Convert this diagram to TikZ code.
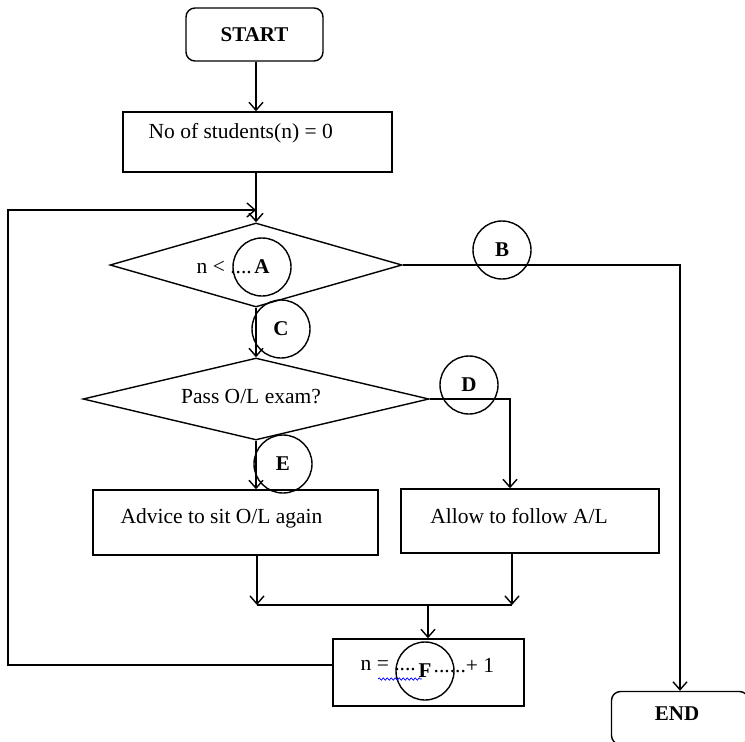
\documentclass[tikz,border=0pt]{standalone}
\usepackage{fontspec}
\setmainfont{Liberation Serif}
\usetikzlibrary{shapes.geometric,arrows.meta,decorations.pathmorphing}
\begin{document}
\begin{tikzpicture}[x=1pt,y=-1pt, line width=1.4pt,
  every node/.style={font=\fontsize{21.5}{24}\selectfont},
  term/.style={draw, rounded corners=9pt, minimum width=137pt, minimum height=53pt, inner sep=0pt, font=\fontsize{21}{24}\selectfont\bfseries},
  procbox/.style={draw, rectangle, inner sep=0pt},
  decide/.style={draw, diamond, aspect=4, inner sep=0pt},
  conn/.style={circle, draw, minimum size=58pt, inner sep=0pt, font=\fontsize{21}{24}\selectfont\bfseries},
  flow/.style={-{Straight Barb[length=8pt,width=14pt,line width=1.4pt]}},
  txt/.style={inner sep=0pt}
]
\useasboundingbox (0,0) rectangle (745,742);
% nodes
\node[term] (start) at (254.5,34.5) {START};
\node[procbox, minimum width=269pt, minimum height=60pt] (init) at (257.5,142) {};
\node[txt, anchor=west] (initT) at (148,133) {No of students(n) = 0};
\node[decide, minimum width=292pt, minimum height=84pt] (d1) at (256,265) {};
\node[txt, anchor=west] (d1T) at (196,267) {n < ....};
\node[decide, minimum width=346pt, minimum height=82pt] (d2) at (256,399) {};
\node[txt] (d2T) at (251,397) {Pass O/L exam?};
\node[procbox, minimum width=285pt, minimum height=65pt] (adv) at (235.5,522.5) {};
\node[txt] (advT) at (221.5,518) {Advice to sit O/L again};
\node[procbox, minimum width=258pt, minimum height=64pt] (allow) at (530,521) {};
\node[txt] (allowT) at (519,516) {Allow to follow A/L};
\node[procbox, minimum width=191pt, minimum height=67pt] (inc) at (428.5,672.5) {};
\node[txt, anchor=west] (incL) at (360,666) {n = ....};
\node[txt, anchor=west] (incR) at (433,666) {......+ 1};
\node[term] (end) at (680,718) {};
\node[txt, font=\fontsize{21}{24}\selectfont\bfseries] (endT) at (677,714) {END};
% connector labels (circles)
\node[conn] (cA) at (262,267) {A};
\node[conn] (cB) at (502,250) {B};
\node[conn] (cC) at (281,329) {C};
\node[conn] (cD) at (469,385) {D};
\node[conn] (cE) at (283,464) {E};
\node[conn] (cF) at (425,671) {F};
% coordinates
\coordinate (colx) at (256,0);
\coordinate (bturn) at (680,265);
\coordinate (dturn) at (510,399);
\coordinate (mergeL) at (257,605);
\coordinate (mergeR) at (512,605);
\coordinate (mergeC) at (428,605);
\coordinate (loopA) at (8,665);
\coordinate (loopB) at (8,210);
\coordinate (loopC) at (256,210);
% connectors
\draw[flow] (start.south -| colx) -- (init.north -| colx);
\draw[flow] (init.south -| colx) -- (d1.north);
\draw[flow] (d1.east) -- (bturn) -- (end.north);
\draw[flow] (d1.south) -- (d2.north);
\draw[flow] (d2.east) -- (dturn) -- (dturn |- allow.north);
\draw[flow] (d2.south) -- (d2.south |- adv.north);
\draw[flow] (mergeL |- adv.south) -- (mergeL);
\draw[flow] (mergeR |- allow.south) -- (mergeR);
\draw (mergeL) -- (mergeR);
\draw[flow] (mergeC) -- (mergeC |- inc.north);
\draw[flow] (inc.west |- loopA) -- (loopA) -- (loopB) -- (loopC);
% spell-check squiggle
\draw[blue, line width=0.7pt, decorate, decoration={snake, amplitude=1.2pt, segment length=4pt}] (378,679) -- (422,679);
\end{tikzpicture}
\end{document}
